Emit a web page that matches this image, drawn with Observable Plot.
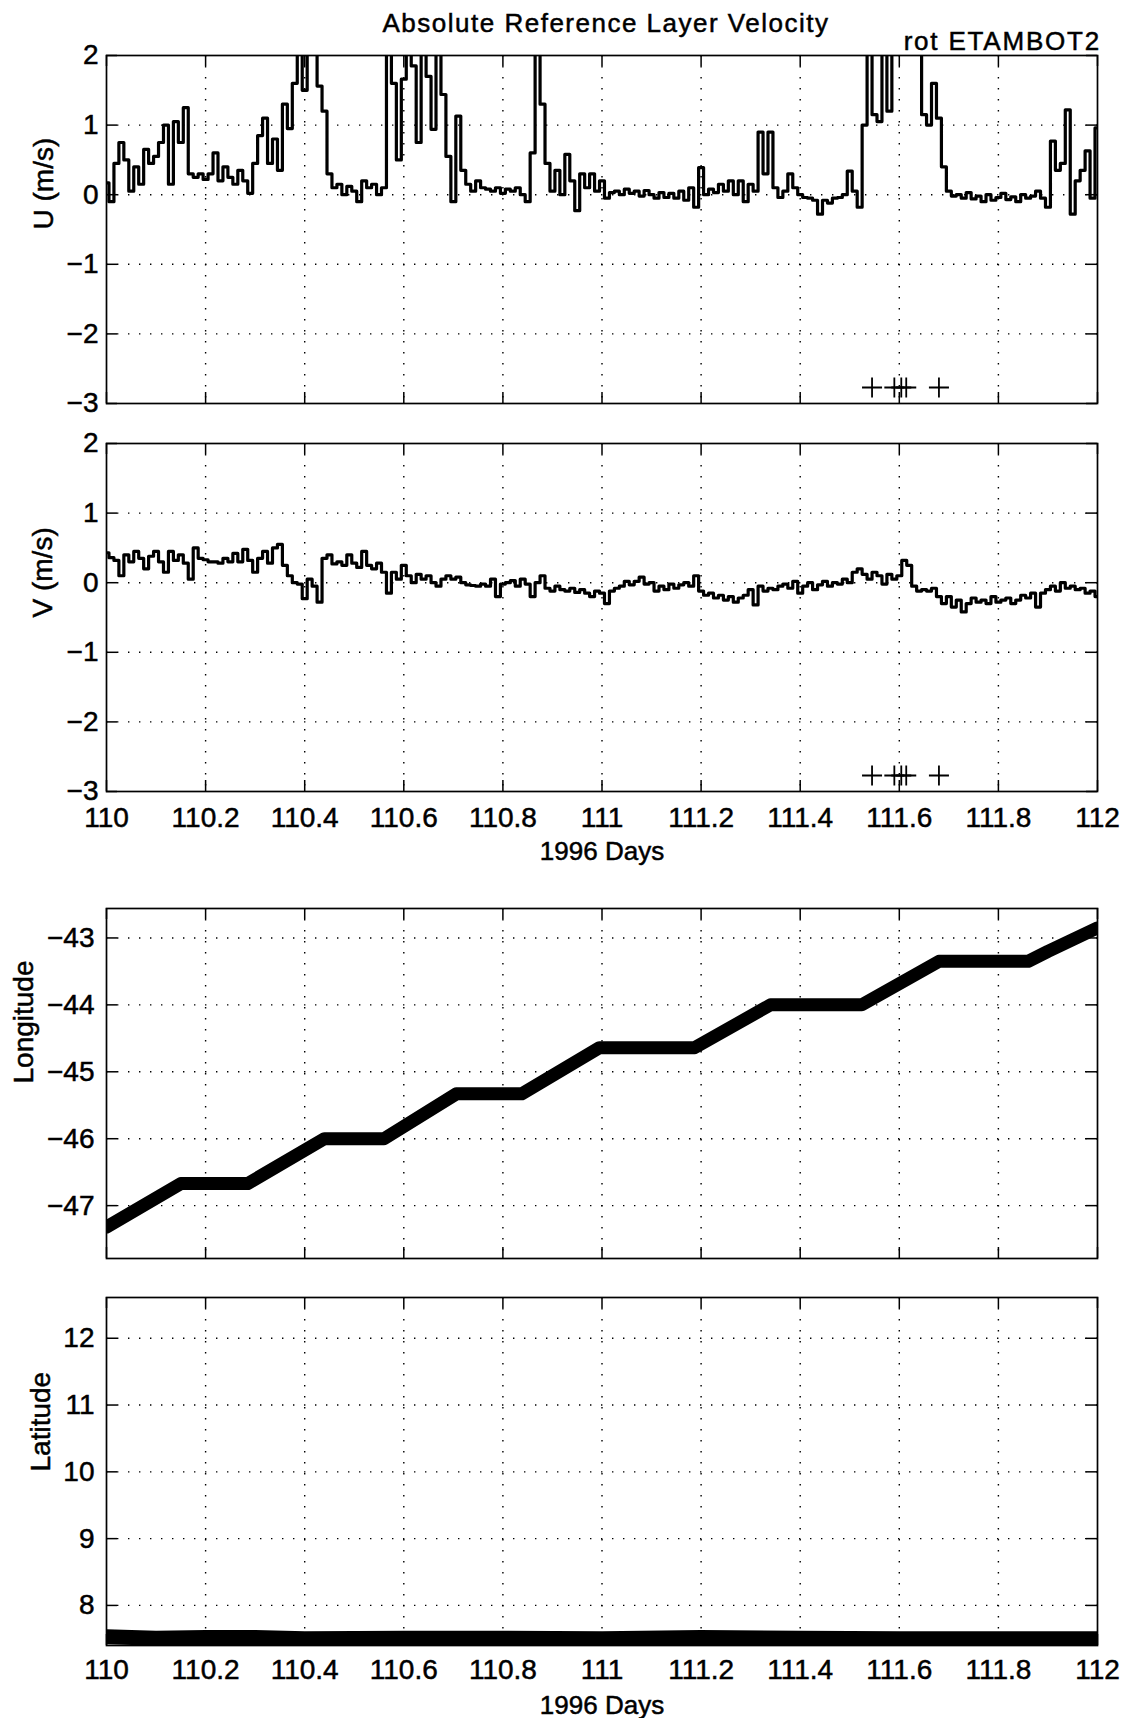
<!DOCTYPE html>
<html>
<head>
<meta charset="utf-8">
<script src="https://cdn.jsdelivr.net/npm/d3@7"></script>
<script src="https://cdn.jsdelivr.net/npm/@observablehq/plot@0.6"></script>
<style>
  html, body { margin: 0; padding: 0; background: #fff; }
  #chart { position: relative; width: 1127px; height: 1718px; overflow: hidden;
           font-family: "Liberation Sans", Arial, Helvetica, sans-serif; color: #000; }
  .panel { position: absolute; left: 0; }
  .panel svg { overflow: visible; }
  .panel svg text { stroke: #000; stroke-width: 0.5px; }
  #title { position: absolute; left: 306px; width: 600px; top: 10px; text-align: center;
           font-size: 26px; line-height: 26px; letter-spacing: 1.5px; white-space: nowrap;
           -webkit-text-stroke: 0.5px #000; }
  #subtitle { position: absolute; right: 26px; top: 28px; text-align: right;
              font-size: 26px; line-height: 26px; letter-spacing: 1.8px; white-space: nowrap;
              -webkit-text-stroke: 0.5px #000; }
</style>
</head>
<body>
<div id="chart">
  <div id="title">Absolute Reference Layer Velocity</div>
  <div id="subtitle">rot ETAMBOT2</div>
</div>
<script>
// ---------------- data ----------------
const xTicks = [110, 110.2, 110.4, 110.6, 110.8, 111, 111.2, 111.4, 111.6, 111.8, 112];
const xTickLabels = ["110", "110.2", "110.4", "110.6", "110.8", "111", "111.2", "111.4", "111.6", "111.8", "112"];
const velTicks = [-3, -2, -1, 0, 1, 2];
const lonTicks = [-47, -46, -45, -44, -43];
const latTicks = [8, 9, 10, 11, 12];

// velocity samples: one every 0.01 day from day 110 to day 112
const sampleStart = 110;
const sampleStep = 0.01;
const uValues = [
  0.17, -0.1, 0.45, 0.75, 0.5, 0.05, 0.4, 0.15, 0.65, 0.45,
  0.55, 0.75, 1.0, 0.15, 1.05, 0.75, 1.25, 0.3, 0.25, 0.3,
  0.22, 0.3, 0.6, 0.2, 0.4, 0.25, 0.15, 0.35, 0.2, 0.02,
  0.45, 0.85, 1.1, 0.45, 0.8, 0.35, 1.3, 0.95, 1.6, 2.6,
  1.5, 2.6, 2.6, 1.56, 1.2, 0.3, 0.1, 0.15, 0.0, 0.12,
  0.05, -0.1, 0.2, 0.1, 0.15, 0.0, 0.1, 2.6, 1.6, 0.5,
  1.66, 2.6, 1.85, 0.75, 2.6, 1.7, 0.94, 2.6, 1.44, 0.55,
  -0.1, 1.13, 0.35, 0.15, 0.05, 0.2, 0.1, 0.08, 0.05, 0.1,
  0.02, 0.08, 0.05, 0.1, 0.0, -0.1, 0.6, 2.6, 1.3, 0.45,
  0.05, 0.35, 0.0, 0.58, 0.2, -0.23, 0.3, 0.1, 0.3, 0.05,
  0.2, -0.05, 0.03, 0.05, 0.0, 0.08, 0.02, 0.05, -0.02, 0.06,
  0.0, -0.05, 0.03, -0.04, 0.02, -0.05, 0.05, -0.08, 0.1, -0.18,
  0.39, 0.0, 0.08, 0.03, 0.15, 0.05, 0.2, 0.0, 0.2, -0.1,
  0.15, 0.05, 0.9, 0.3, 0.9, 0.1, -0.04, 0.05, 0.3, 0.1,
  0.0, -0.04, -0.05, -0.08, -0.28, -0.08, -0.12, -0.05, -0.04, 0.0,
  0.34, 0.05, -0.18, 1.0, 2.6, 1.15, 1.05, 2.6, 1.2, 2.6,
  2.6, 2.6, 2.6, 2.6, 2.6, 1.15, 1.0, 1.6, 1.1, 0.4,
  0.05, -0.02, 0.0, -0.05, 0.03, -0.06, -0.02, -0.1, 0.0, -0.08,
  -0.04, 0.02, -0.07, -0.03, -0.1, 0.0, -0.05, -0.02, 0.05, -0.05,
  -0.18, 0.77, 0.35, 0.45, 1.22, -0.28, 0.2, 0.35, 0.63, -0.05,
  0.96
];
const vValues = [
  0.43, 0.36, 0.32, 0.1, 0.4, 0.3, 0.45, 0.35, 0.2, 0.38,
  0.45, 0.3, 0.15, 0.45, 0.32, 0.4, 0.28, 0.05, 0.5, 0.35,
  0.33, 0.3, 0.3, 0.28, 0.35, 0.3, 0.42, 0.3, 0.48, 0.32,
  0.15, 0.35, 0.45, 0.28, 0.5, 0.55, 0.25, 0.1, 0.0, -0.02,
  -0.23, 0.05, -0.05, -0.28, 0.35, 0.4, 0.27, 0.3, 0.25, 0.4,
  0.28, 0.22, 0.45, 0.25, 0.2, 0.28, 0.15, -0.15, 0.15, 0.05,
  0.25, 0.1, 0.0, 0.12, 0.05, 0.1, 0.0, -0.05, 0.05, 0.1,
  0.05, 0.08, 0.0, -0.03, -0.04, -0.05, -0.02, -0.05, 0.05, -0.2,
  -0.02, 0.0, 0.03, -0.05, 0.05, -0.02, -0.2, 0.0, 0.1, -0.08,
  -0.12, -0.05, -0.1, -0.12, -0.08, -0.14, -0.1, -0.15, -0.2, -0.12,
  -0.15, -0.3, -0.12, -0.08, -0.05, 0.02, -0.03, 0.02, 0.08, -0.02,
  0.0, -0.12, -0.05, -0.1, -0.02, -0.08, -0.03, 0.0, -0.05, 0.1,
  -0.12, -0.18, -0.15, -0.22, -0.18, -0.25, -0.2, -0.28, -0.22, -0.18,
  -0.1, -0.32, -0.05, -0.12, -0.08, -0.1, -0.05, -0.02, -0.08, 0.02,
  -0.15, -0.05, 0.0, -0.1, -0.03, 0.02, -0.05, 0.0, -0.02, 0.05,
  0.0, 0.15, 0.2, 0.12, 0.05, 0.15, 0.1, -0.02, 0.12, 0.05,
  0.1, 0.32, 0.25, -0.05, -0.12, -0.1, -0.12, -0.08, -0.2, -0.3,
  -0.2, -0.35, -0.25, -0.42, -0.3, -0.22, -0.28, -0.25, -0.3, -0.2,
  -0.28, -0.25, -0.22, -0.3, -0.25, -0.18, -0.22, -0.15, -0.35, -0.15,
  -0.1, -0.05, -0.12, 0.0, -0.08, -0.05, -0.1, -0.08, -0.15, -0.12,
  -0.2
];

// "+" markers near the bottom of both velocity panels
const markerDays = [111.545, 111.59, 111.604, 111.614, 111.68];
const markerLevel = -2.77;

// float track
const lonDays = [110.0, 110.15, 110.285, 110.44, 110.56, 110.706, 110.838, 110.995, 111.187, 111.34, 111.524, 111.68, 111.86, 111.9, 112.0];
const lonValues = [-47.32, -46.67, -46.67, -46.0, -46.0, -45.33, -45.33, -44.64, -44.64, -44.0, -44.0, -43.35, -43.35, -43.2, -42.85];
const latDays = [110.0, 110.1, 110.2, 110.3, 110.4, 110.6, 110.8, 111.0, 111.2, 111.4, 111.6, 111.8, 112.0];
const latValues = [7.53, 7.51, 7.52, 7.52, 7.5, 7.51, 7.51, 7.5, 7.52, 7.51, 7.5, 7.5, 7.5];

// --------------- tables built from the arrays ---------------
const uRows = uValues.map((v, i) => ({day: sampleStart + i * sampleStep, value: v}));
const vRows = vValues.map((v, i) => ({day: sampleStart + i * sampleStep, value: v}));
const markerRows = markerDays.map(d => ({day: d, value: markerLevel}));
const lonRows = lonDays.map((d, i) => ({day: d, value: lonValues[i]}));
const latRows = latDays.map((d, i) => ({day: d, value: latValues[i]}));

// --------------- layout ---------------
const W = 1127, ML = 106, MR = 30;
const frameW = W - ML - MR;
const FONT = "'Liberation Sans', Arial, Helvetica, sans-serif";
const fmtNum = d => (d < 0 ? "\u2212" + Math.abs(d) : String(d));
const fmtX = d => xTickLabels[xTicks.indexOf(d)];

function makePanel(o) {
  const fh = o.frameH, tl = 11;
  const inner = o.yTicks.filter(t => t > o.yDomain[0] && t < o.yDomain[1]);
  const gridStyle = {stroke: "#000", strokeOpacity: 1, strokeWidth: 1.4, strokeDasharray: "1.4 9.6"};
  const tickStyle = {stroke: "#000", strokeWidth: 1.5};
  const marks = [
    Plot.gridX(xTicks.slice(1, -1), gridStyle),
    Plot.gridY(inner, gridStyle),
    ...o.dataMarks,
    Plot.tickX(xTicks, {...tickStyle, insetTop: fh - tl}),
    Plot.tickX(xTicks, {...tickStyle, insetBottom: fh - tl}),
    Plot.tickY(o.yTicks, {...tickStyle, insetRight: frameW - tl}),
    Plot.tickY(o.yTicks, {...tickStyle, insetLeft: frameW - tl}),
    Plot.frame({stroke: "#000", strokeWidth: 1.7}),
    Plot.axisY(o.yTicks, {tickSize: 0, tickPadding: o.yPad, tickFormat: fmtNum, fontSize: 28, label: null}),
    Plot.text([o.yLabel], {text: d => d, frameAnchor: "left", dx: o.yLabelDx, rotate: -90, fontSize: 28, fill: "#000"})
  ];
  if (o.showX) {
    marks.push(
      Plot.axisX(xTicks, {tickSize: 0, tickPadding: o.xPad, tickFormat: fmtX, fontSize: 28, label: null}),
      Plot.text(["1996 Days"], {text: d => d, frameAnchor: "bottom", dy: o.xLabelDy, fontSize: 26, fill: "#000"})
    );
  }
  const svg = Plot.plot({
    width: W,
    height: o.marginTop + fh + o.marginBottom,
    marginTop: o.marginTop, marginBottom: o.marginBottom,
    marginLeft: ML, marginRight: MR,
    x: {domain: [110, 112], axis: null},
    y: {domain: o.yDomain, axis: null},
    style: {fontFamily: FONT, fontSize: "28px", color: "#000", background: "transparent", overflow: "visible"},
    marks
  });
  const wrap = document.createElement("div");
  wrap.className = "panel";
  wrap.style.top = o.top + "px";
  wrap.appendChild(svg);
  document.getElementById("chart").appendChild(wrap);
}

const velLine = rows => Plot.line(rows, {x: "day", y: "value", curve: "step", stroke: "#000", strokeWidth: 3.2, strokeLinejoin: "round", clip: true});
const markers = Plot.dot(markerRows, {x: "day", y: "value", symbol: "plus", r: 6.5, stroke: "#000", strokeWidth: 1.8});

makePanel({top: 45, marginTop: 10, frameH: 348, marginBottom: 10, yDomain: [-3, 2], yTicks: velTicks, yPad: 8,
  yLabel: "U (m/s)", yLabelDx: -62, showX: false, dataMarks: [velLine(uRows), markers]});
makePanel({top: 433, marginTop: 10, frameH: 348, marginBottom: 76, yDomain: [-3, 2], yTicks: velTicks, yPad: 8,
  yLabel: "V (m/s)", yLabelDx: -63, showX: true, xPad: 16, xLabelDy: 68, dataMarks: [velLine(vRows), markers]});
makePanel({top: 898, marginTop: 10, frameH: 350, marginBottom: 10, yDomain: [-47.79, -42.56], yTicks: lonTicks, yPad: 12,
  yLabel: "Longitude", yLabelDx: -82, showX: false,
  dataMarks: [Plot.line(lonRows, {x: "day", y: "value", stroke: "#000", strokeWidth: 13, strokeLinejoin: "round", clip: true})]});
makePanel({top: 1287, marginTop: 10, frameH: 348, marginBottom: 73, yDomain: [7.4, 12.61], yTicks: latTicks, yPad: 12,
  yLabel: "Latitude", yLabelDx: -65, showX: true, xPad: 14, xLabelDy: 68,
  dataMarks: [Plot.line(latRows, {x: "day", y: "value", stroke: "#000", strokeWidth: 15, clip: true})]});
</script>
</body>
</html>
